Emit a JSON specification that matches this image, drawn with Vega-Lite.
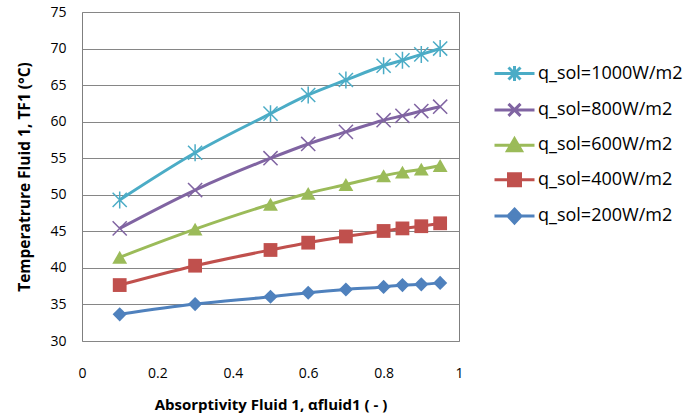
{
  "$schema": "https://vega.github.io/schema/vega-lite/v6.json",
  "width": 377,
  "height": 329,
  "autosize": {"type": "none"},
  "padding": {"left": 82, "top": 12, "right": 224, "bottom": 78},
  "config": {
    "font": "Open Sans",
    "view": {"stroke": "#7f7f7f", "strokeWidth": 1},
    "axis": {"labelFont": "Open Sans", "titleFont": "Open Sans", "labelColor": "#000", "titleColor": "#000"}
  },
  "datasets": {"pts": [
    {"x": 0.1, "T": 49.3, "series": "q_sol=1000W/m2"},
    {"x": 0.3, "T": 55.75, "series": "q_sol=1000W/m2"},
    {"x": 0.5, "T": 61.1, "series": "q_sol=1000W/m2"},
    {"x": 0.6, "T": 63.65, "series": "q_sol=1000W/m2"},
    {"x": 0.7, "T": 65.7, "series": "q_sol=1000W/m2"},
    {"x": 0.8, "T": 67.65, "series": "q_sol=1000W/m2"},
    {"x": 0.85, "T": 68.4, "series": "q_sol=1000W/m2"},
    {"x": 0.9, "T": 69.2, "series": "q_sol=1000W/m2"},
    {"x": 0.95, "T": 70.0, "series": "q_sol=1000W/m2"},
    {"x": 0.1, "T": 45.4, "series": "q_sol=800W/m2"},
    {"x": 0.3, "T": 50.65, "series": "q_sol=800W/m2"},
    {"x": 0.5, "T": 55.0, "series": "q_sol=800W/m2"},
    {"x": 0.6, "T": 56.95, "series": "q_sol=800W/m2"},
    {"x": 0.7, "T": 58.6, "series": "q_sol=800W/m2"},
    {"x": 0.8, "T": 60.2, "series": "q_sol=800W/m2"},
    {"x": 0.85, "T": 60.8, "series": "q_sol=800W/m2"},
    {"x": 0.9, "T": 61.45, "series": "q_sol=800W/m2"},
    {"x": 0.95, "T": 62.05, "series": "q_sol=800W/m2"},
    {"x": 0.1, "T": 41.45, "series": "q_sol=600W/m2"},
    {"x": 0.3, "T": 45.3, "series": "q_sol=600W/m2"},
    {"x": 0.5, "T": 48.7, "series": "q_sol=600W/m2"},
    {"x": 0.6, "T": 50.2, "series": "q_sol=600W/m2"},
    {"x": 0.7, "T": 51.4, "series": "q_sol=600W/m2"},
    {"x": 0.8, "T": 52.6, "series": "q_sol=600W/m2"},
    {"x": 0.85, "T": 53.1, "series": "q_sol=600W/m2"},
    {"x": 0.9, "T": 53.5, "series": "q_sol=600W/m2"},
    {"x": 0.95, "T": 54.0, "series": "q_sol=600W/m2"},
    {"x": 0.1, "T": 37.65, "series": "q_sol=400W/m2"},
    {"x": 0.3, "T": 40.3, "series": "q_sol=400W/m2"},
    {"x": 0.5, "T": 42.45, "series": "q_sol=400W/m2"},
    {"x": 0.6, "T": 43.45, "series": "q_sol=400W/m2"},
    {"x": 0.7, "T": 44.3, "series": "q_sol=400W/m2"},
    {"x": 0.8, "T": 45.05, "series": "q_sol=400W/m2"},
    {"x": 0.85, "T": 45.4, "series": "q_sol=400W/m2"},
    {"x": 0.9, "T": 45.7, "series": "q_sol=400W/m2"},
    {"x": 0.95, "T": 46.1, "series": "q_sol=400W/m2"},
    {"x": 0.1, "T": 33.65, "series": "q_sol=200W/m2"},
    {"x": 0.3, "T": 35.05, "series": "q_sol=200W/m2"},
    {"x": 0.5, "T": 36.05, "series": "q_sol=200W/m2"},
    {"x": 0.6, "T": 36.6, "series": "q_sol=200W/m2"},
    {"x": 0.7, "T": 37.05, "series": "q_sol=200W/m2"},
    {"x": 0.8, "T": 37.4, "series": "q_sol=200W/m2"},
    {"x": 0.85, "T": 37.65, "series": "q_sol=200W/m2"},
    {"x": 0.9, "T": 37.75, "series": "q_sol=200W/m2"},
    {"x": 0.95, "T": 37.95, "series": "q_sol=200W/m2"}
  ]},
  "data": {"name": "pts"},
  "encoding": {
    "x": {
      "field": "x", "type": "quantitative",
      "scale": {"domain": [0, 1], "nice": false, "zero": false},
      "axis": {
        "values": [0, 0.2, 0.4, 0.6, 0.8, 1], "format": "~g",
        "grid": false, "ticks": false, "domain": false, "labelFlush": false,
        "labelFontSize": 14, "labelPadding": 25,
        "title": "Absorptivity Fluid 1, αfluid1 ( - )",
        "titleFontSize": 15, "titleFontWeight": "bold", "titlePadding": 17
      }
    },
    "y": {
      "field": "T", "type": "quantitative",
      "scale": {"domain": [30, 75], "nice": false, "zero": false},
      "axis": {
        "values": [30, 35, 40, 45, 50, 55, 60, 65, 70, 75],
        "grid": true, "gridColor": "#868686", "gridWidth": 1,
        "ticks": false, "domain": false, "labelFlush": false,
        "labelFontSize": 14, "labelPadding": 16,
        "title": "Temperatrure Fluid 1, TF1 (°C)",
        "titleFontSize": 15.5, "titleFontWeight": "bold", "titlePadding": 17
      }
    }
  },
  "layer": [
    {
      "mark": {"type": "line", "interpolate": "monotone", "strokeWidth": 3},
      "encoding": {
        "color": {
          "field": "series", "type": "nominal",
          "scale": {
            "domain": ["q_sol=1000W/m2", "q_sol=800W/m2", "q_sol=600W/m2", "q_sol=400W/m2", "q_sol=200W/m2"],
            "range": ["#4BACC6", "#8064A2", "#9BBB59", "#C0504D", "#4F81BD"]
          },
          "legend": {
            "title": null,
            "orient": "none", "legendX": 421, "legendY": 50,
            "padding": 0,
            "symbolSize": 400, "symbolStrokeWidth": 3,
            "labelFontSize": 18, "labelFont": "Open Sans", "labelColor": "#000",
            "labelOffset": 12, "rowPadding": 10.4,
            "encode": {
              "symbols": {
                "update": {
                  "shape": {"signal": "datum.value === 'q_sol=1000W/m2' ? 'M-2,0L2,0M-0.6,-0.6L0.6,0.6M-0.6,0.6L0.6,-0.6M0,-0.75L0,0.75' : datum.value === 'q_sol=800W/m2' ? 'M-2,0L2,0M-0.6,-0.6L0.6,0.6M-0.6,0.6L0.6,-0.6' : datum.value === 'q_sol=600W/m2' ? 'M-2,0L2,0M0,-0.65L0.7,0.55L-0.7,0.55Z' : datum.value === 'q_sol=400W/m2' ? 'M-2,0L2,0M-0.6,-0.6L0.6,-0.6L0.6,0.6L-0.6,0.6Z' : 'M-2,0L2,0M0,-0.7L0.65,0L0,0.7L-0.65,0Z'"},
                  "fill": {"signal": "scale('color', datum.value)"},
                  "stroke": {"signal": "scale('color', datum.value)"},
                  "opacity": {"value": 1}
                }
              }
            }
          }
        }
      }
    },
    {
      "transform": [{"filter": "datum.series === 'q_sol=1000W/m2'"}],
      "mark": {"type": "point", "filled": false, "shape": "M-1,-1L1,1M-1,1L1,-1M0,-1.2L0,1.2", "strokeWidth": 1.5, "size": 200, "opacity": 1, "color": "#4BACC6"}
    },
    {
      "transform": [{"filter": "datum.series === 'q_sol=800W/m2'"}],
      "mark": {"type": "point", "filled": false, "shape": "M-1,-1L1,1M-1,1L1,-1", "strokeWidth": 1.5, "size": 200, "opacity": 1, "color": "#8064A2"}
    },
    {
      "transform": [{"filter": "datum.series === 'q_sol=600W/m2'"}],
      "mark": {"type": "point", "filled": true, "shape": "triangle-up", "size": 220, "opacity": 1, "color": "#9BBB59"}
    },
    {
      "transform": [{"filter": "datum.series === 'q_sol=400W/m2'"}],
      "mark": {"type": "point", "filled": true, "shape": "square", "size": 190, "opacity": 1, "color": "#C0504D"}
    },
    {
      "transform": [{"filter": "datum.series === 'q_sol=200W/m2'"}],
      "mark": {"type": "point", "filled": true, "shape": "diamond", "size": 200, "opacity": 1, "color": "#4F81BD"}
    }
  ]
}
